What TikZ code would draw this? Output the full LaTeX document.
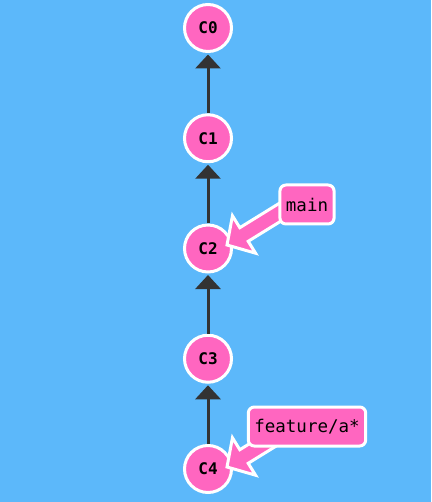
\documentclass[tikz,border=0pt]{standalone}
\usepackage{fontspec}
\setmonofont{DejaVu Sans Mono}
\usetikzlibrary{arrows.meta,calc}
\definecolor{bgc}{RGB}{92,184,250}
\definecolor{pinkc}{RGB}{255,102,192}
\definecolor{darkc}{RGB}{51,51,51}
\pgfdeclarelayer{back}
\pgfdeclarelayer{mid}
\pgfsetlayers{back,mid,main}
\begin{document}
\begin{tikzpicture}[x=1pt,y=-1pt,
 commit/.style={circle,draw=white,fill=pinkc,line width=3pt,minimum size=47pt,inner sep=0pt,font=\ttfamily\bfseries\fontsize{16}{18}\selectfont},
 parent/.style={draw=darkc,line width=3pt,-{Triangle[width=25pt,length=14pt]},shorten >=1.5pt},
 branch/.style={draw=white,fill=pinkc,line width=3pt,rounded corners=6pt,inner xsep=6pt,minimum height=39pt,font=\ttfamily\fontsize{17.5}{20}\selectfont},
 fat/.style={draw=white,fill=pinkc,line width=3pt,line join=miter}]
\begin{pgfonlayer}{back}
\fill[bgc] (0,0) rectangle (431,502);
\node[commit] (c0) at (208,28) {C0};
\node[commit] (c1) at (208,138.25) {C1};
\node[commit] (c2) at (208,248.5) {C2};
\node[commit] (c3) at (208,358.75) {C3};
\node[commit] (c4) at (208,469) {C4};
\draw[parent] (c1) -- (c0);
\draw[parent] (c2) -- (c1);
\draw[parent] (c3) -- (c2);
\draw[parent] (c4) -- (c3);
\end{pgfonlayer}
\node[branch] (mainlbl) at (307,204.5) {main};
\node[branch] (featlbl) at (307,426.5) {feature/a*};
\begin{pgfonlayer}{mid}
\coordinate (mt) at ($(c2.center)+(19,-3.5)$);
\coordinate (ms) at ($(mainlbl.center)+(-12,-1.5)$);
\coordinate (mm) at ($(mt)!20pt!(ms)$);
\draw[fat] ($(ms)!8pt!-90:(mm)$) -- ($(mm)!8pt!90:(ms)$) -- ($(mm)!22pt!90:(ms)$) -- (mt)
  -- ($(mm)!22pt!-90:(ms)$) -- ($(mm)!8pt!-90:(ms)$) -- ($(ms)!8pt!90:(mm)$) -- cycle;
\coordinate (ft) at ($(c4.center)+(19,-2)$);
\coordinate (fs) at ($(featlbl.center)+(-12,-1.5)$);
\coordinate (fm) at ($(ft)!20pt!(fs)$);
\draw[fat] ($(fs)!8pt!-90:(fm)$) -- ($(fm)!8pt!90:(fs)$) -- ($(fm)!22pt!90:(fs)$) -- (ft)
  -- ($(fm)!22pt!-90:(fs)$) -- ($(fm)!8pt!-90:(fs)$) -- ($(fs)!8pt!90:(fm)$) -- cycle;
\end{pgfonlayer}
\end{tikzpicture}
\end{document}
